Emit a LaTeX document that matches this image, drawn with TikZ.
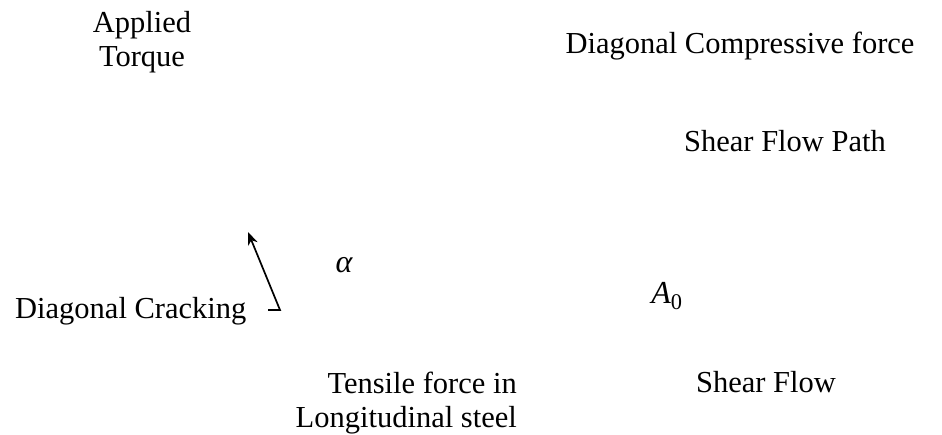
\documentclass[tikz,border=0pt]{standalone}
\usepackage{fontspec}
\setmainfont{Liberation Serif}
\usetikzlibrary{positioning,arrows.meta}

\begin{document}
\begin{tikzpicture}[
  x=1pt, y=-1pt,
  label/.style={inner sep=0pt, anchor=base, align=center, font=\fontsize{30.5}{34}\selectfont},
  symbol/.style={inner sep=0pt, anchor=base, font=\fontsize{32}{34}\selectfont},
  arrow/.style={-{Stealth[length=13pt, width=10pt]}, line width=1.7pt, draw=black},
]
  \useasboundingbox (0,0) rectangle (942,434);

  \node[label] (torque) at (142,66) {Applied\\Torque};
  \node[label] (compforce) at (740,53) {Diagonal Compressive force};
  \node[label] (flowpath) at (785,151) {Shear Flow Path};
  \node[symbol] (angle) at (344,272) {\itshape α};
  \node[symbol] (area) at (667,303) {\itshape A\textsubscript{\upshape 0}};
  \node[label, anchor=base west] (cracking) at (15,318) {Diagonal Cracking};
  \node[label, align=right, anchor=base east] (tensile) at (517,427) {Tensile force in\\Longitudinal steel};
  \node[label] (shearflow) at (766,392) {Shear Flow};

  \coordinate (hook) at (268,310);
  \coordinate (crackfoot) at (280,310);
  \coordinate (cracktip) at (248,232);
  \draw[arrow] (hook) -- (crackfoot) -- (cracktip);
\end{tikzpicture}
\end{document}
